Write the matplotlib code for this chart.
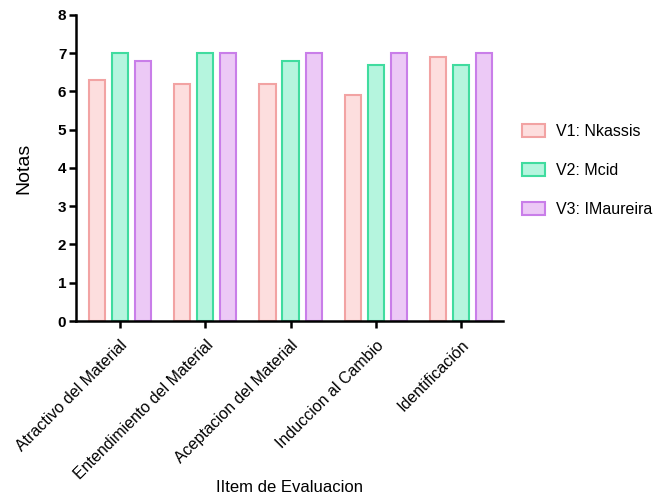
import matplotlib.pyplot as plt
import numpy as np

plt.rcParams['font.family'] = ['Liberation Sans', 'DejaVu Sans']

categories = ["Atractivo del Material", "Entendimiento del Material",
              "Aceptacion del Material", "Induccion al Cambio", "Identificación"]
series_names = ["V1: Nkassis", "V2: Mcid", "V3: IMaureira"]
v1 = [6.3, 6.2, 6.2, 5.9, 6.9]
v2 = [7.0, 7.0, 6.8, 6.7, 6.7]
v3 = [6.8, 7.0, 7.0, 7.0, 7.0]

fills = ["#fddede", "#b5f5de", "#ecc9f6"]
edges = ["#f2a3a3", "#40dc9f", "#c97ee9"]

fig = plt.figure(figsize=(6.58, 4.98), dpi=100)
ax = fig.add_axes([0.1155, 0.3554, 0.649, 0.6146])

x = np.arange(len(categories))
step = 0.27
width = 0.19
for i, (vals, name) in enumerate(zip([v1, v2, v3], series_names)):
    ax.bar(x + (i - 1) * step, vals, width, color=fills[i], edgecolor=edges[i],
           linewidth=1.5, label=name)

ax.set_xlim(-0.515, 4.49)
ax.set_ylim(0, 8)
ax.set_yticks(range(0, 9))
ax.set_xticks(x)
ax.set_xticklabels(categories, rotation=45, ha='right', rotation_mode='anchor', fontsize=11.5)
for lab in ax.get_yticklabels():
    lab.set_fontweight('bold')
    lab.set_fontsize(11)

for s in ['top', 'right']:
    ax.spines[s].set_visible(False)
for s in ['left', 'bottom']:
    ax.spines[s].set_linewidth(1.8)
ax.tick_params(axis='y', width=1.8, length=5, pad=2)
ax.tick_params(axis='x', width=1.8, length=5, pad=7)

ax.set_ylabel("Notas", fontsize=14, labelpad=18)
ax.set_xlabel("IItem de Evaluacion", fontsize=12)
ax.xaxis.set_label_coords(0.5, -0.52)

ax.legend(loc='center left', bbox_to_anchor=(0.772, 0.658), bbox_transform=fig.transFigure,
          frameon=False, fontsize=11.5, handlelength=1.4, handleheight=0.9,
          labelspacing=1.5, handletextpad=0.7)

fig.savefig("out.png", dpi=100)
